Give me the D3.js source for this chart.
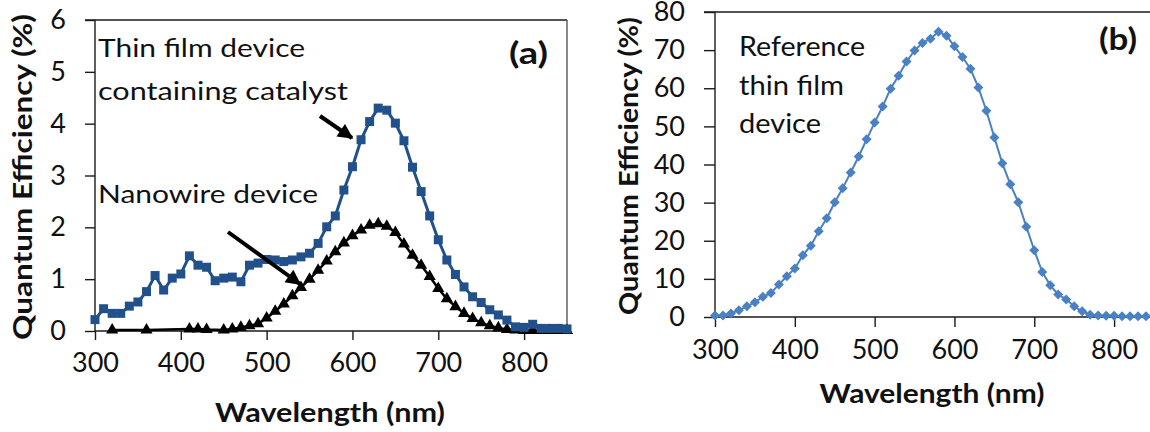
<!DOCTYPE html>
<html><head><meta charset="utf-8">
<script src="https://cdn.jsdelivr.net/npm/d3@7"></script>
<style>
html,body{margin:0;padding:0;background:#fff;overflow:hidden;}
svg{display:block;}
</style></head>
<body><svg id="c" width="1150" height="432"></svg>
<script>
// ---------- data ----------
const xTicks = [300,400,500,600,700,800];
const yTicksA = [0,1,2,3,4,5,6];
const yTicksB = [0,10,20,30,40,50,60,70,80];

const wlThin = [300,310,320,330,340,350,360,370,380,390,400,410,420,430,440,450,460,470,480,490,500,510,520,530,540,550,560,570,580,590,600,610,620,630,640,650,660,670,680,690,700,710,720,730,740,750,760,770,780,790,800,810,820,830,840,850];
const qeThin = [0.22,0.43,0.34,0.34,0.48,0.56,0.76,1.07,0.79,1.02,1.10,1.45,1.27,1.23,0.97,1.02,1.04,0.95,1.27,1.31,1.38,1.37,1.34,1.37,1.43,1.50,1.69,2.01,2.22,2.72,3.17,3.69,4.04,4.30,4.26,4.01,3.67,3.16,2.69,2.22,1.76,1.37,1.09,0.85,0.66,0.55,0.41,0.31,0.21,0.08,0.07,0.13,0.05,0.05,0.05,0.04];

const wlNano = [320,360,410,420,430,450,460,470,480,490,500,510,520,530,540,550,560,570,580,590,600,610,620,630,640,650,660,670,680,690,700,710,720,730,740,750,760,770,780,790,800,810,820,830,840,850];
const qeNano = [0.02,0.02,0.04,0.04,0.03,0.02,0.04,0.07,0.10,0.14,0.25,0.38,0.52,0.68,0.84,1.00,1.17,1.35,1.53,1.70,1.84,1.95,2.04,2.07,2.02,1.90,1.68,1.46,1.27,1.05,0.82,0.62,0.47,0.34,0.24,0.16,0.10,0.06,0.03,0.02,0.01,0.01,0.01,0.01,0.01,0.01];

const wlRef = [300,310,320,330,340,350,360,370,380,390,400,410,420,430,440,450,460,470,480,490,500,510,520,530,540,550,560,570,580,590,600,610,620,630,640,650,660,670,680,690,700,710,720,730,740,750,760,770,780,790,800,810,820,830,840,850];
const qeRef = [0.4,0.4,0.9,1.8,2.8,3.9,5.3,6.3,8.5,10.7,12.7,16.2,18.7,22.5,25.9,30.1,33.8,37.9,42.1,46.6,51.0,55.2,59.9,63.3,67.0,69.9,71.9,73.0,74.8,73.8,71.0,68.2,65.1,60.2,54.1,47.1,40.3,34.8,30.1,23.7,17.5,11.8,8.3,5.9,4.6,2.8,1.5,0.6,0.4,0.3,0.3,0.2,0.2,0.2,0.2,0.2];

const xTitle = "Wavelength (nm)";
const yTitle = "Quantum Efficiency (%)";

// ---------- drawing ----------
const svg = d3.select("#c");
const FONT = "Lato, 'Open Sans', sans-serif";
const AX = "#1a1a1a";

svg.append("defs").append("marker")
  .attr("id","arr").attr("viewBox","0 0 10 10").attr("refX",9).attr("refY",5)
  .attr("markerWidth",4.4).attr("markerHeight",3.8).attr("markerUnits","strokeWidth")
  .attr("orient","auto")
  .append("path").attr("d","M0,0 L10,5 L0,10 Z").attr("fill","#000");

function fit(sel, len){
  return sel.attr("textLength", len).attr("lengthAdjust","spacingAndGlyphs");
}

function panel(o){
  const g = svg.append("g");
  const x = d3.scaleLinear().domain([300,850]).range(o.xr);
  const y = d3.scaleLinear().domain(o.yd).range(o.yr);
  const [x0,x1] = o.xr, [y0,y1] = o.yr;
  // frame
  g.append("line").attr("x1",x(300)).attr("x2",x(300)).attr("y1",y0).attr("y2",y1).attr("stroke",AX).attr("stroke-width",1.4);
  g.append("line").attr("x1",x0-o.ytl).attr("x2",Math.min(x1,1150)).attr("y1",y1).attr("y2",y1).attr("stroke",AX).attr("stroke-width",1.4);
  g.append("line").attr("x1",x0).attr("x2",Math.min(x1,1150)).attr("y1",y0).attr("y2",y0).attr("stroke",AX).attr("stroke-width",1.4);
  if (x1 < 1150) g.append("line").attr("x1",x1).attr("x2",x1).attr("y1",y0).attr("y2",y1).attr("stroke","#555").attr("stroke-width",1.4);

  const xa = g.append("g").attr("transform",`translate(0,${y0})`)
    .call(d3.axisBottom(x).tickValues(xTicks).tickSize(o.xtl).tickPadding(o.xpad).tickFormat(d3.format("d")));
  xa.select(".domain").remove();
  xa.selectAll("line").attr("stroke",AX).attr("stroke-width",1.4);
  xa.selectAll("text").attr("font-family",FONT).attr("font-size",27).attr("fill","#111");

  const ya = g.append("g").attr("transform",`translate(${x0},0)`)
    .call(d3.axisLeft(y).tickValues(o.yt).tickSize(o.ytl).tickPadding(o.ypad).tickFormat(d3.format("d")));
  ya.select(".domain").remove();
  ya.selectAll("line").attr("stroke",AX).attr("stroke-width",1.4);
  ya.selectAll("text").attr("font-family",FONT).attr("font-size",27).attr("fill","#111");

  fit(g.append("text").attr("x",o.xtx - o.xtw/2).attr("y",o.xty)
    .attr("font-family",FONT).attr("font-weight","bold").attr("font-size",26).attr("fill","#111")
    .text(xTitle), o.xtw);
  fit(g.append("text").attr("transform",`translate(${o.ytx},${o.yty + o.ytw/2}) rotate(-90)`)
    .attr("font-family",FONT).attr("font-weight","bold").attr("font-size",26).attr("fill","#111")
    .text(yTitle), o.ytw);
  return {g,x,y};
}

// Panel (a)
const A = panel({xr:[95,567], yd:[0,6], yr:[331,20], yt:yTicksA, xtl:9, xpad:13, ytl:10, ypad:19,
  xtx:330, xty:422, xtw:230, ytx:32, yty:177, ytw:326});
// Panel (b)
const B = panel({xr:[715,1154], yd:[0,80], yr:[317,12], yt:yTicksB, xtl:10, xpad:13, ytl:11, ypad:19,
  xtx:932, xty:403, xtw:225, ytx:638, yty:166, ytw:298});

function series(P, xs, ys, color, lw, sym, size, rot){
  const pts = xs.map((w,i)=>[P.x(w), P.y(ys[i])]);
  P.g.append("path").attr("d", d3.line()(pts)).attr("fill","none").attr("stroke",color).attr("stroke-width",lw).attr("stroke-linejoin","round");
  P.g.selectAll(null).data(pts).join("path")
    .attr("transform", d=>`translate(${d[0]},${d[1]}) rotate(${rot})`)
    .attr("d", d3.symbol().type(sym).size(size)())
    .attr("fill", color);
}

series(A, wlNano, qeNano, "#000000", 2.5, d3.symbolTriangle, 64, 0);
series(A, wlThin, qeThin, "#22508a", 3, d3.symbolSquare, 81, 0);
series(B, wlRef, qeRef, "#4a80c4", 2, d3.symbolSquare, 50, 45);

// annotations
function txt(g, x, y, s, size, bold, w){
  const t = g.append("text").attr("x",x).attr("y",y).attr("font-family",FONT).attr("font-size",size)
   .attr("font-weight",bold?"bold":"normal").attr("fill","#111").text(s);
  if (w) fit(t, w);
  return t;
}
txt(A.g, 98, 57, "Thin film device", 25, false, 207);
txt(A.g, 98, 100, "containing catalyst", 25, false, 250);
txt(A.g, 98, 203, "Nanowire device", 25, false, 220);
txt(A.g, 509, 64, "(a)", 30, true, 39);
A.g.append("line").attr("x1",320).attr("y1",116).attr("x2",352).attr("y2",138)
  .attr("stroke","#000").attr("stroke-width",4).attr("marker-end","url(#arr)");
A.g.append("line").attr("x1",228).attr("y1",232).attr("x2",300).attr("y2",284)
  .attr("stroke","#000").attr("stroke-width",4).attr("marker-end","url(#arr)");

txt(B.g, 739, 56, "Reference", 26, false, 126);
txt(B.g, 739, 95, "thin film", 26, false, 105);
txt(B.g, 739, 133, "device", 26, false, 82);
txt(B.g, 1099, 50, "(b)", 30, true, 38);
</script></body></html>
